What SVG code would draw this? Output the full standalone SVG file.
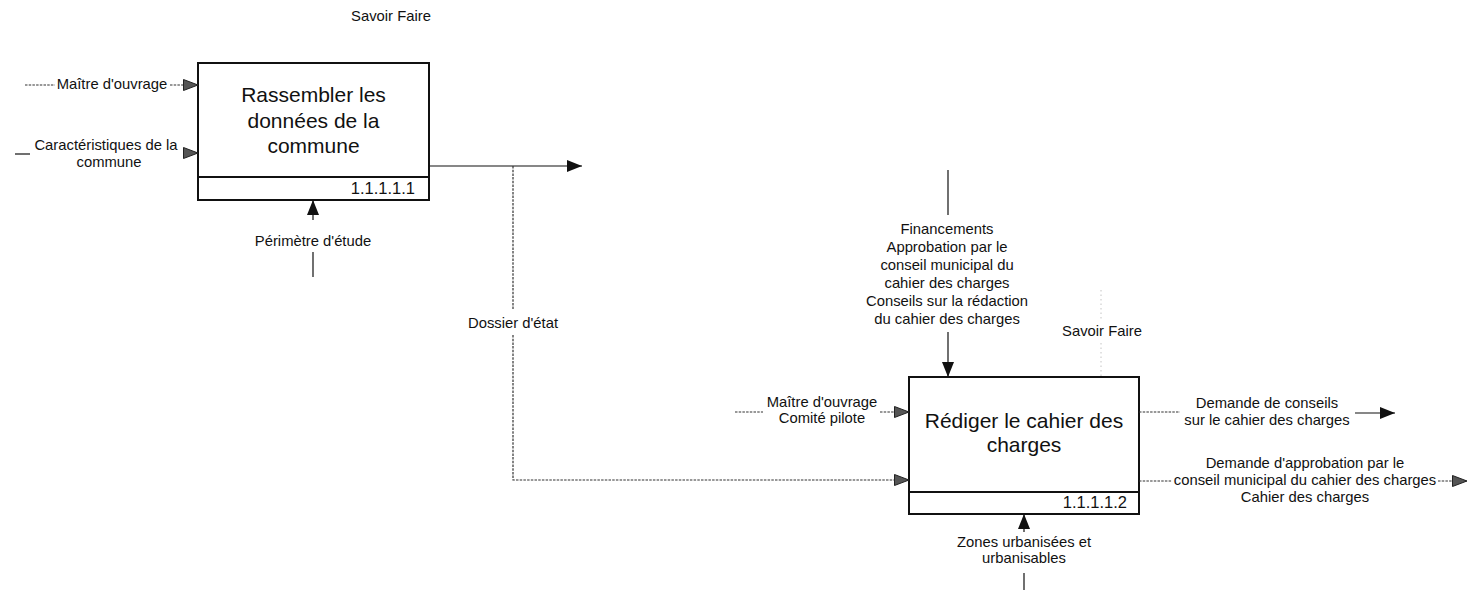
<svg xmlns="http://www.w3.org/2000/svg" width="1480" height="595" viewBox="0 0 1480 595">
<style>
text{font-family:"Liberation Sans",Arial,sans-serif;fill:#111}
.title{font-size:21px;text-anchor:middle}
.num{font-size:16.5px;text-anchor:end}
.lbl{font-size:14.8px;text-anchor:middle}
.box{fill:#fff;stroke:#111;stroke-width:2}
.div{stroke:#111;stroke-width:2}
.solid{fill:none;stroke:#111;stroke-width:1.2}
.dot{fill:none;stroke:#333;stroke-width:1.2;stroke-dasharray:2.5 1.2}
.faint{fill:none;stroke:#c4c4c4;stroke-width:1;stroke-dasharray:1.5 3}
.ab{marker-end:url(#ah)}
.ag{marker-end:url(#ahg)}
</style>
<defs>
<marker id="ah" markerUnits="userSpaceOnUse" markerWidth="15" markerHeight="12" refX="15" refY="6" orient="auto">
<path d="M0,0 L15,6 L0,12 z" fill="#111"/>
</marker>
<marker id="ahg" markerUnits="userSpaceOnUse" markerWidth="15" markerHeight="12" refX="15" refY="6" orient="auto">
<path d="M0.5,0.5 L15,6 L0.5,11.5 z" fill="#555" stroke="#222" stroke-width="1"/>
</marker>
</defs>

<g id="node-1111">
<rect class="box" x="198" y="63" width="231" height="137"/>
<line class="div" x1="198" y1="177" x2="429" y2="177"/>
<text class="title" x="313.5" y="102">Rassembler les</text>
<text class="title" x="313.5" y="127.5">données de la</text>
<text class="title" x="313.5" y="153">commune</text>
<text class="num" x="415" y="194">1.1.1.1.1</text>
</g>

<g id="node-1112">
<rect class="box" x="909" y="377" width="230" height="137"/>
<line class="div" x1="909" y1="492" x2="1139" y2="492"/>
<text class="title" x="1024" y="428">Rédiger le cahier des</text>
<text class="title" x="1024" y="452">charges</text>
<text class="num" x="1127" y="508">1.1.1.1.2</text>
</g>

<g id="connectors">
<!-- Box 1 inputs -->
<path class="dot" d="M25,85 H55"/>
<path class="dot ag" d="M170,85 H198"/>
<path class="solid" d="M15,154 H30"/>
<path class="dot ag" d="M183,153 H198"/>
<!-- Box 1 mechanism -->
<path class="solid ab" d="M313,220 V200"/>
<path class="solid" d="M313,252 V277"/>
<!-- Box 1 output -->
<path class="solid ab" d="M429,166 H582"/>
<path class="dot" d="M513,166 V310"/>
<path class="dot ag" d="M513,335 V480 H909"/>
<!-- Box 2 control -->
<path class="solid" d="M948,170 V215"/>
<path class="solid ab" d="M948,332 V377"/>
<path class="faint" d="M1101,290 V321"/>
<path class="faint" d="M1101,343 V377"/>
<!-- Box 2 input -->
<path class="dot" d="M735,412 H763"/>
<path class="dot ag" d="M880,412 H909"/>
<!-- Box 2 mechanism -->
<path class="solid ab" d="M1024,532 V514"/>
<path class="solid" d="M1024,573 V590"/>
<!-- Box 2 outputs -->
<path class="dot" d="M1139,412 H1180"/>
<path class="solid ab" d="M1355,413 H1395"/>
<path class="dot" d="M1139,481 H1172"/>
<path class="dot ag" d="M1438,481 H1467"/>

<text class="lbl" x="391" y="21">Savoir Faire</text>
<text class="lbl" x="112" y="89">Maître d'ouvrage</text>
<text class="lbl" x="106" y="150">Caractéristiques de la</text>
<text class="lbl" x="109" y="167">commune</text>
<text class="lbl" x="313" y="246">Périmètre d'étude</text>
<text class="lbl" x="513" y="328">Dossier d'état</text>
<text class="lbl" x="947" y="234">Financements</text>
<text class="lbl" x="947" y="252">Approbation par le</text>
<text class="lbl" x="947" y="270">conseil municipal du</text>
<text class="lbl" x="947" y="288">cahier des charges</text>
<text class="lbl" x="947" y="306">Conseils sur la rédaction</text>
<text class="lbl" x="947" y="323.5">du cahier des charges</text>
<text class="lbl" x="1102" y="336">Savoir Faire</text>
<text class="lbl" x="822" y="407">Maître d'ouvrage</text>
<text class="lbl" x="822" y="423">Comité pilote</text>
<text class="lbl" x="1267" y="408">Demande de conseils</text>
<text class="lbl" x="1267" y="425">sur le cahier des charges</text>
<text class="lbl" x="1305" y="468">Demande d'approbation par le</text>
<text class="lbl" x="1305" y="485">conseil municipal du cahier des charges</text>
<text class="lbl" x="1305" y="502">Cahier des charges</text>
<text class="lbl" x="1024" y="547">Zones urbanisées et</text>
<text class="lbl" x="1024" y="563">urbanisables</text>
</g>
</svg>
